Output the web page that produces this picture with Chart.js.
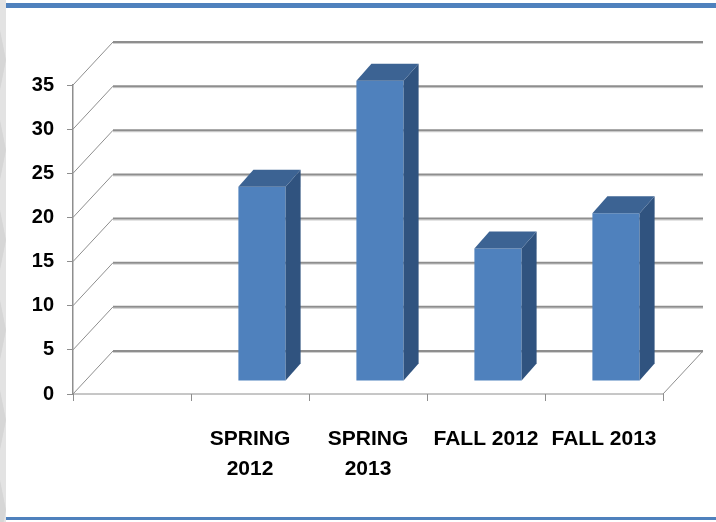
<!DOCTYPE html>
<html>
<head>
<meta charset="utf-8">
<script src="https://cdn.jsdelivr.net/npm/chart.js@4"></script>
<style>
	html, body { margin: 0; padding: 0; background: #fff; }
	#wrap { width: 716px; height: 522px; position: relative; }
</style>
</head>
<body>
<div id="wrap"><canvas id="myChart" width="716" height="522"></canvas></div>
<script>
// chart data
const categories = ['', ['SPRING', '2012'], ['SPRING', '2013'], 'FALL 2012', 'FALL 2013'];
const values = [null, 22, 34, 15, 19];
const yMax = 35;
const yStep = 5;

// 3d look: back wall offset, bar plane offset, bar depth
const wall = { dx: 40, dy: -43 };
const plane = { dx: 12, dy: -13 };
const barDepth = { dx: 15, dy: -17 };

const gridGray = '#8e8e8e';

const frame3d = {
	id: 'frame3d',
	beforeDraw(chart) {
		const ctx = chart.ctx;
		const area = chart.chartArea;
		const y = chart.scales.y;

		// page decoration: grey left band, blue rules
		ctx.save();
		ctx.fillStyle = '#e3e3e3';
		ctx.fillRect(0, 0, 6, 522);
		ctx.fillStyle = '#d6d6d6';
		for (let i = 0; i < 6; i++) {
			ctx.beginPath();
			ctx.moveTo(0, 30 + i * 90);
			ctx.lineTo(6, 60 + i * 90);
			ctx.lineTo(0, 90 + i * 90);
			ctx.closePath();
			ctx.fill();
		}
		ctx.fillStyle = '#4f81bd';
		ctx.fillRect(6, 3, 710, 5);
		ctx.fillRect(6, 517, 710, 3);
		ctx.restore();

		// back wall gridlines + diagonals
		ctx.save();
		y.ticks.forEach(t => {
			const py = y.getPixelForValue(t.value);
			ctx.strokeStyle = gridGray;
			ctx.lineWidth = 1;
			ctx.beginPath();
			ctx.moveTo(area.left, py);
			ctx.lineTo(area.left + wall.dx, py + wall.dy);
			ctx.stroke();
			ctx.strokeStyle = '#d0d0d0';
			ctx.lineWidth = 1;
			ctx.beginPath();
			ctx.moveTo(area.left + wall.dx, py + wall.dy + 1.5);
			ctx.lineTo(area.right + wall.dx, py + wall.dy + 1.5);
			ctx.stroke();
			ctx.strokeStyle = gridGray;
			ctx.lineWidth = 2;
			ctx.beginPath();
			ctx.moveTo(area.left + wall.dx, py + wall.dy);
			ctx.lineTo(area.right + wall.dx, py + wall.dy);
			ctx.stroke();
		});
		// floor front edge + right edge
		ctx.strokeStyle = gridGray;
		ctx.lineWidth = 1;
		ctx.beginPath();
		ctx.moveTo(area.left, area.bottom);
		ctx.lineTo(area.right, area.bottom);
		ctx.lineTo(area.right + wall.dx, area.bottom + wall.dy);
		ctx.stroke();
		ctx.restore();
	},
	beforeDatasetsDraw(chart) {
		chart.ctx.save();
		chart.ctx.translate(plane.dx, plane.dy);
	},
	afterDatasetsDraw(chart) {
		const ctx = chart.ctx;
		chart.getDatasetMeta(0).data.forEach((bar, i) => {
			if (values[i] == null) return;
			const l = bar.x - bar.width / 2;
			const r = bar.x + bar.width / 2;
			const top = bar.y;
			const base = bar.base;
			// side face
			ctx.fillStyle = '#30537f';
			ctx.beginPath();
			ctx.moveTo(r, top);
			ctx.lineTo(r + barDepth.dx, top + barDepth.dy);
			ctx.lineTo(r + barDepth.dx, base + barDepth.dy);
			ctx.lineTo(r, base);
			ctx.closePath();
			ctx.fill();
			// top face
			ctx.fillStyle = '#3c6393';
			ctx.beginPath();
			ctx.moveTo(l, top);
			ctx.lineTo(l + barDepth.dx, top + barDepth.dy);
			ctx.lineTo(r + barDepth.dx, top + barDepth.dy);
			ctx.lineTo(r, top);
			ctx.closePath();
			ctx.fill();
		});
		ctx.restore();
	}
};

const ctx = document.getElementById('myChart').getContext('2d');

new Chart(ctx, {
	type: 'bar',
	data: {
		labels: categories,
		datasets: [
			{
				data: values,
				backgroundColor: '#4f81bd',
				borderWidth: 0,
				categoryPercentage: 1,
				barPercentage: 0.4,
			},
		],
	},
	options: {
		responsive: false,
		animation: false,
		devicePixelRatio: 1,
		layout: { padding: { top: 85, right: 53, left: 0, bottom: 0 } },
		plugins: {
			legend: { display: false },
			tooltip: { enabled: false },
		},
		scales: {
			x: {
				grid: { drawOnChartArea: false, tickLength: 7, color: gridGray, offset: true },
				border: { display: false },
				ticks: {
					color: '#000',
					font: { family: 'Liberation Sans, Arial', weight: 'bold', size: 21, lineHeight: 1.4 },
					padding: 24,
					maxRotation: 0,
					autoSkip: false,
				},
				afterFit(scale) { scale.height = 128; },
			},
			y: {
				min: 0,
				max: yMax,
				grid: { drawOnChartArea: false, tickLength: 6, color: gridGray },
				border: { color: gridGray, width: 1.5 },
				ticks: {
					stepSize: yStep,
					color: '#000',
					font: { family: 'Liberation Sans, Arial', weight: 'bold', size: 20 },
					padding: 13,
				},
				afterFit(scale) { scale.width = 73; },
			},
		},
	},
	plugins: [frame3d],
});
</script>
</body>
</html>
